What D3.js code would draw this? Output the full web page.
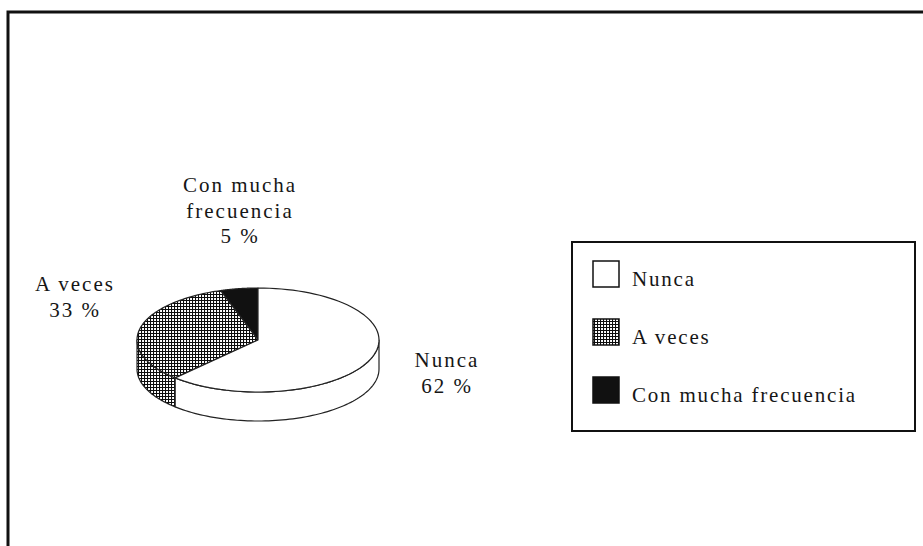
<!DOCTYPE html>
<html>
<head>
<meta charset="utf-8">
<script src="https://cdn.jsdelivr.net/npm/d3@7"></script>
<style>
  html, body { margin: 0; padding: 0; background: #fff; }
  svg { display: block; }
  text { font-family: "Liberation Serif", "DejaVu Serif", serif; fill: #161616; }
</style>
</head>
<body>
<svg id="chart" width="923" height="546"></svg>
<script>
// Survey answers, in slice order (counter-clockwise from 12 o'clock)
const categories = ["Con mucha frecuencia", "A veces", "Nunca"];
const values = [5, 33, 62];
const labelLines = [["Con mucha", "frecuencia"], ["A veces"], ["Nunca"]];
const fills = ["#111", "url(#hatch)", "#fff"];
const legendOrder = ["Nunca", "A veces", "Con mucha frecuencia"];

const W = 923, H = 546;
const svg = d3.select("#chart");

// Cross-hatch fill used for "A veces"
const defs = svg.append("defs");
const pat = defs.append("pattern")
  .attr("id", "hatch").attr("width", 3).attr("height", 3)
  .attr("patternUnits", "userSpaceOnUse");
pat.append("rect").attr("width", 3).attr("height", 3).attr("fill", "#fff");
pat.append("path").attr("d", "M0,0.5H3M0.5,0V3")
  .attr("stroke", "#0c0c0c").attr("stroke-width", 1.1).attr("fill", "none");

// Page frame: heavy rule along the top and left
svg.append("path")
  .attr("d", `M8,${H} V12 H${W}`)
  .attr("fill", "none").attr("stroke", "#111").attr("stroke-width", 3);

// 3D pie geometry
const cx = 258, cy = 340, rx = 121, ry = 52, depth = 29;
const pt = (a, dy = 0) => [cx + rx * Math.sin(a), cy - ry * Math.cos(a) + dy];

const pie = d3.pie().sort(null).startAngle(0).endAngle(-2 * Math.PI);
const arcs = pie(values).map((d, i) => ({ ...d, i }));

const sample = (a0, a1, n = 80) => d3.range(n + 1).map(k => a0 + (a1 - a0) * k / n);
const line = d3.line();

const g = svg.append("g");

// Side walls: only the front half of the rim is visible
const FRONT_HI = -Math.PI / 2, FRONT_LO = -3 * Math.PI / 2;
arcs.forEach(d => {
  const hi = Math.min(d.startAngle, FRONT_HI);
  const lo = Math.max(d.endAngle, FRONT_LO);
  if (hi <= lo) return;
  const top = sample(hi, lo).map(a => pt(a));
  const bot = sample(lo, hi).map(a => pt(a, depth));
  g.append("path")
    .attr("d", line(top.concat(bot)) + "Z")
    .attr("fill", fills[d.i])
    .attr("stroke", "#222").attr("stroke-width", 1.2)
    .attr("stroke-linejoin", "round");
});

// Top faces
arcs.forEach(d => {
  const pts = [[cx, cy]].concat(sample(d.startAngle, d.endAngle).map(a => pt(a)));
  g.append("path")
    .attr("d", line(pts) + "Z")
    .attr("fill", fills[d.i])
    .attr("stroke", "#222").attr("stroke-width", 1.2)
    .attr("stroke-linejoin", "round");
});

// Slice labels
const labelPos = [[240, 192], [75, 291], [447, 367]];
const lh = 25.5;
arcs.forEach(d => {
  const [x, y] = labelPos[d.i];
  const lines = labelLines[d.i].concat([`${values[d.i]} %`]);
  const t = svg.append("text")
    .attr("text-anchor", "middle")
    .attr("font-size", 21)
    .attr("letter-spacing", 2);
  lines.forEach((s, k) => {
    t.append("tspan").attr("x", x).attr("y", y + k * lh).text(s);
  });
});

// Legend
const lg = svg.append("g");
const box = { x: 572, y: 242, w: 343, h: 189 };
lg.append("rect")
  .attr("x", box.x).attr("y", box.y).attr("width", box.w).attr("height", box.h)
  .attr("fill", "#fff").attr("stroke", "#111").attr("stroke-width", 2);

const ly = d3.scalePoint().domain(legendOrder).range([261, 377]);
legendOrder.forEach(name => {
  const i = categories.indexOf(name);
  const y = ly(name);
  lg.append("rect")
    .attr("x", 593).attr("y", y).attr("width", 26).attr("height", 26)
    .attr("fill", fills[i]).attr("stroke", "#111").attr("stroke-width", 1.5);
  lg.append("text")
    .attr("x", 632).attr("y", y + 25)
    .attr("font-size", 21).attr("letter-spacing", 1.8)
    .text(name);
});
</script>
</body>
</html>
